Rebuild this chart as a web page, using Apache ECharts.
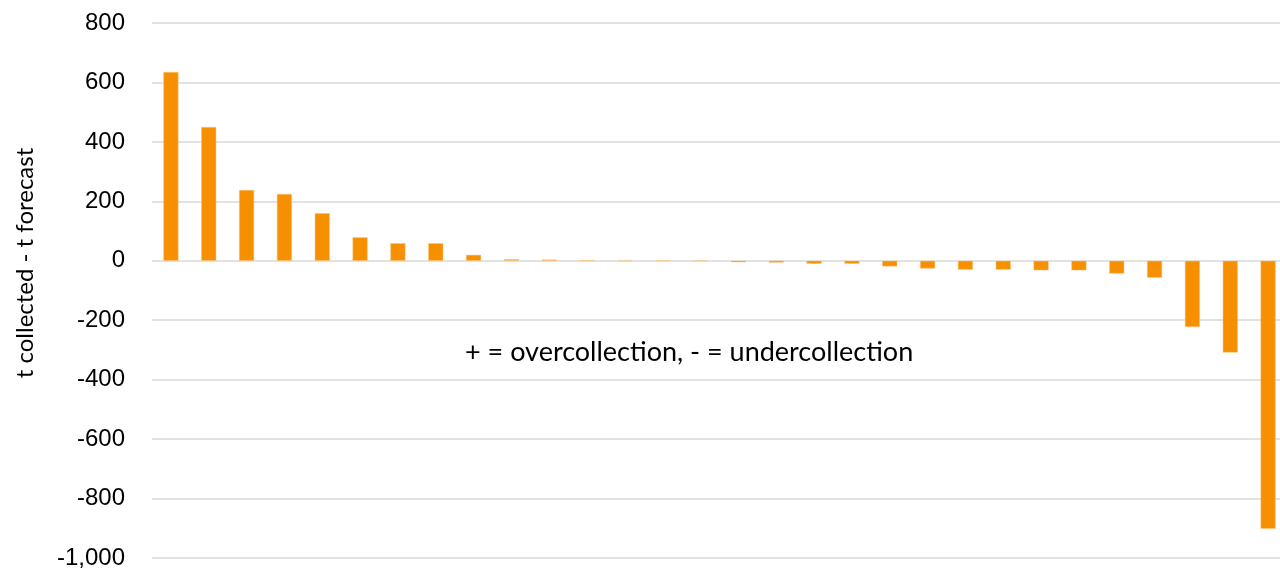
<!DOCTYPE html>
<html>
<head>
<meta charset="utf-8">
<script src="https://cdn.jsdelivr.net/npm/echarts@6/dist/echarts.min.js"></script>
<style>
  html, body { margin: 0; padding: 0; background: #fff; }
  #chart { width: 1280px; height: 571px; }
</style>
</head>
<body>
<div id="chart"></div>
<script>
// one bar per item, sorted from largest over- to largest under-collection
const categories = Array.from({ length: 30 }, (_, i) => 'Item ' + (i + 1))
const diffValues = [
  635, 450, 238, 225, 160, 79, 59, 59, 20, 5,
  4, 2, 0, 1, 1, -5, -6, -10, -10, -19,
  -26, -30, -30, -32, -32, -43, -57, -223, -309, -902
]
const yTicks = { min: -1000, max: 800, step: 200 }
const yTitle = 't collected - t forecast'
const note = '+ = overcollection, - = undercollection'

const chart = echarts.init(document.getElementById('chart'))

chart.setOption({
  backgroundColor: '#fff',
  animation: false,
  grid: { left: 152, top: 23, bottom: 13, width: 1135, outerBoundsMode: 'none' },
  xAxis: {
    type: 'category',
    data: categories,
    axisLine: { show: false },
    axisTick: { show: false },
    axisLabel: { show: false }
  },
  yAxis: {
    type: 'value',
    min: yTicks.min,
    max: yTicks.max,
    interval: yTicks.step,
    axisLine: { show: false },
    axisTick: { show: false },
    axisLabel: {
      fontFamily: 'Liberation Sans',
      fontSize: 24,
      color: '#000',
      margin: 27,
      formatter: v => v.toLocaleString('en-US')
    },
    splitLine: { lineStyle: { color: '#d9d9d9', width: 1.5 } }
  },
  series: [{
    type: 'bar',
    data: diffValues,
    barWidth: 15,
    itemStyle: { color: '#f79000', borderColor: '#fbc57a', borderWidth: 0.5 }
  }],
  graphic: [{
    type: 'text',
    x: 25,
    y: 263,
    rotation: Math.PI / 2,
    style: { text: yTitle, font: '24px Lato', fill: '#000', align: 'center', verticalAlign: 'middle' }
  }, {
    type: 'text',
    x: 465,
    y: 352,
    style: { text: note, font: '27px Lato', fill: '#000', verticalAlign: 'middle' }
  }]
})

window.addEventListener('resize', () => chart.resize())
</script>
</body>
</html>
